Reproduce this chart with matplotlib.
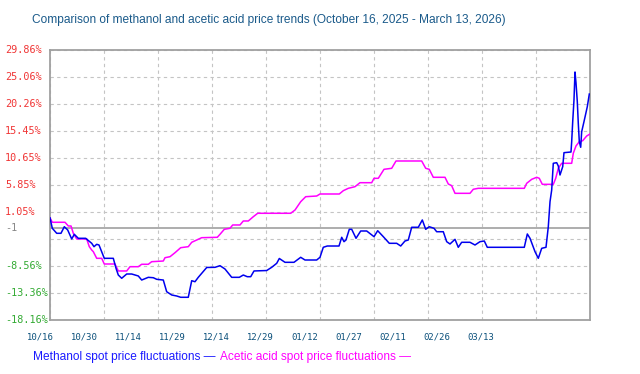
import matplotlib
matplotlib.use("Agg")
import matplotlib.pyplot as plt
import matplotlib.transforms as mtransforms
import numpy as np

# ---------------- data ----------------
title = "Comparison of methanol and acetic acid price trends (October 16, 2025 - March 13, 2026)"
x_labels = ["10/16", "10/30", "11/14", "11/29", "12/14", "12/29", "01/12", "01/27", "02/11", "02/26", "03/13"]
y_ticks = [29.86, 25.06, 20.26, 15.45, 10.65, 5.85, 1.05, -3.75, -8.56, -13.36, -18.16]
y_tick_labels = ["29.86%", "25.06%", "20.26%", "15.45%", "10.65%", "5.85%", "1.05%", "", "-8.56%", "-13.36%", "-18.16%"]
baseline_value = -1.8
baseline_label = "-1"
total_days = 148

methanol_days = [0, 0.63, 1.84, 3.01, 3.92, 4.85, 5.95, 6.66, 7.76, 9.78, 10.33, 11.43, 12.06, 12.80, 13.43,
                 14.88, 17.35, 18.09, 18.72, 19.65, 21.02, 22.39, 24.20, 25.13, 26.94, 28.31, 29.24, 31.05,
                 31.98, 33.35, 34.72, 35.82, 37.90, 38.84, 39.74, 40.64, 42.95, 45.22, 46.59, 47.96, 49.80,
                 51.88, 52.98, 54.07, 55.01, 55.91, 59.39, 60.76, 62.13, 62.85, 64.41, 66.87, 68.71, 69.89,
                 73.09, 74.00, 74.90, 76.00, 79.21, 79.95, 80.58, 81.12, 82.03, 82.69, 83.87, 85.15, 86.80,
                 88.80, 89.81, 91.35, 92.99, 95.02, 96.12, 97.29, 98.20, 99.13, 100.94, 102.04, 102.97,
                 103.95, 105.24, 105.98, 107.79, 108.72, 109.63, 111.00, 111.90, 112.83, 115.11, 116.48,
                 117.85, 119.03, 119.85, 129.99, 130.82, 131.56, 132.93, 133.83, 134.76, 135.94, 136.57,
                 137.04, 137.50, 137.94, 138.87, 139.31, 139.78, 140.52, 140.87, 142.79, 142.98, 143.26,
                 143.61, 143.89, 144.16, 144.52, 144.79, 145.07, 145.45, 145.72, 146.35, 147.26, 147.81]
methanol_vals = [0.0, -1.85, -2.74, -2.74, -1.57, -2.15, -3.75, -2.92, -3.63, -3.63, -3.93, -4.52, -5.12, -4.70,
                 -4.82, -7.19, -7.19, -8.96, -10.16, -10.74, -9.98, -9.98, -10.33, -11.05, -10.57, -10.64,
                 -10.92, -11.05, -13.13, -13.71, -13.89, -14.12, -14.12, -11.17, -11.35, -10.57, -8.82, -8.79,
                 -8.50, -9.09, -10.57, -10.57, -10.16, -10.46, -10.46, -9.44, -9.36, -8.79, -8.08, -7.22,
                 -7.90, -7.90, -7.01, -7.49, -7.49, -7.01, -5.23, -5.00, -5.00, -3.45, -4.23, -3.93, -2.03,
                 -2.03, -3.63, -2.33, -2.33, -3.34, -2.28, -3.34, -4.52, -4.52, -5.00, -4.11, -3.93, -1.67,
                 -1.67, -0.37, -2.03, -1.57, -1.85, -2.46, -2.46, -4.23, -4.64, -3.81, -5.23, -4.34, -4.34,
                 -4.82, -4.23, -4.11, -5.23, -5.23, -2.86, -3.63, -6.01, -7.19, -5.41, -5.23, -1.57, 2.88,
                 4.96, 9.71, 9.82, 9.23, 7.63, 9.11, 11.60, 11.72, 13.55, 17.11, 20.97, 25.95, 24.04, 20.66,
                 16.82, 13.55, 12.56, 15.33, 17.11, 19.78, 22.03]

acetic_days = [0, 0.63, 4.11, 5.02, 5.76, 6.39, 7.32, 10.06, 10.77, 11.43, 11.87, 12.80, 14.17, 14.88, 17.81,
               18.72, 21.02, 21.93, 24.20, 25.13, 26.94, 27.87, 31.05, 31.52, 32.89, 34.26, 35.82, 37.90,
               38.84, 40.21, 41.58, 45.85, 46.59, 47.77, 49.33, 50.07, 52.07, 52.98, 54.35, 55.72, 56.92,
               65.97, 67.15, 68.71, 70.08, 73.09, 74.00, 79.29, 80.39, 81.76, 83.59, 84.96, 88.17, 88.80,
               89.98, 91.54, 93.65, 94.83, 101.87, 102.97, 103.95, 105.05, 108.26, 109.16, 110.09, 111.00,
               115.11, 116.01, 117.38, 129.99, 130.65, 132.02, 133.39, 134.10, 134.93, 137.94, 138.60,
               139.31, 140.24, 142.98, 143.42, 144.16, 145.07, 146.00, 147.10, 148.00]
acetic_vals = [0.0, -0.78, -0.78, -1.44, -1.44, -2.74, -3.75, -3.75, -5.12, -5.71, -6.01, -7.19, -7.19, -8.20,
               -8.20, -9.44, -9.44, -8.68, -8.68, -8.25, -8.25, -7.79, -7.67, -7.08, -6.90, -6.19, -5.30,
               -5.12, -4.34, -3.93, -3.52, -3.45, -2.92, -2.03, -1.85, -1.26, -1.26, -0.55, -0.55, 0.21,
               0.82, 0.82, 1.40, 2.88, 3.77, 3.89, 4.25, 4.25, 4.84, 5.26, 5.55, 6.26, 6.26, 7.04, 7.04,
               8.64, 8.82, 10.12, 10.12, 8.82, 8.64, 7.22, 7.22, 6.03, 5.73, 4.37, 4.37, 5.09, 5.26, 5.26,
               6.15, 6.86, 7.22, 7.04, 5.97, 5.97, 7.04, 8.82, 9.71, 9.71, 11.49, 12.79, 13.55, 13.73,
               14.57, 14.92]

series_names = ["Methanol spot price fluctuations \u2014", "Acetic acid spot price fluctuations \u2014"]

# ---------------- style ----------------
BLUE = "#0000ee"
MAGENTA = "#ff00ff"
GRID = "#c4c4c4"
FRAME = "#a0a0a0"
POS = "#f03535"
NEG = "#33aa33"
TITLE_C = "#1a5a8a"
XLAB_C = "#0a4f7a"

W, H = 640, 374
fig = plt.figure(figsize=(W / 100, H / 100), dpi=100)
fig.patch.set_facecolor("white")
ax = fig.add_axes([50 / W, 1 - 320 / H, 540 / W, 270 / H])

ax.set_xlim(0, total_days)
ax.set_ylim(min(y_ticks), max(y_ticks))

grid_x = np.linspace(0, total_days, len(x_labels))
ax.set_xticks(grid_x)
ax.set_yticks(y_ticks)
ax.set_xticklabels([])
ax.set_yticklabels([])
ax.tick_params(length=0)
ax.grid(True, color=GRID, linestyle=(0, (3, 3)), linewidth=0.8)
ax.set_axisbelow(True)
for s in ax.spines.values():
    s.set_color(FRAME)
    s.set_linewidth(1.3)

ax.axhline(baseline_value, color=FRAME, linewidth=1.2, zorder=1.5)

ax.plot(acetic_days, acetic_vals, color=MAGENTA, linewidth=1.1, zorder=3)
ax.plot(methanol_days, methanol_vals, color=BLUE, linewidth=1.1, zorder=4)

# y labels, left aligned at the figure edge
ytrans = mtransforms.blended_transform_factory(fig.transFigure, ax.transData)
for v, lab in zip(y_ticks, y_tick_labels):
    if not lab:
        continue
    c = NEG if v < 0 else POS
    ax.text(5 / W, v, lab, transform=ytrans, ha="left", va="center", color=c,
            fontsize=7.3, family="DejaVu Sans Mono", clip_on=False)
ax.text(5 / W, baseline_value, baseline_label, transform=ytrans, ha="left", va="center",
        color="#888888", fontsize=7.3, family="DejaVu Sans Mono", clip_on=False)

# x labels (spaced 44 px apart, starting left of the axis)
for i, lab in enumerate(x_labels):
    fig.text((40.5 + 44 * i) / W, 1 - 337 / H, lab, ha="center", va="center",
             color=XLAB_C, fontsize=6.4, family="DejaVu Sans Mono")

fig.text(32 / W, 1 - 20 / H, title, ha="left", va="center", color=TITLE_C,
         fontsize=8.55, family="Liberation Sans")

fig.text(33 / W, 1 - 357 / H, series_names[0], ha="left", va="center", color="#1a1aff",
         fontsize=8.55, family="Liberation Sans")
fig.text(220 / W, 1 - 357 / H, series_names[1], ha="left", va="center", color=MAGENTA,
         fontsize=8.55, family="Liberation Sans")

fig.savefig("out.png", dpi=100)
